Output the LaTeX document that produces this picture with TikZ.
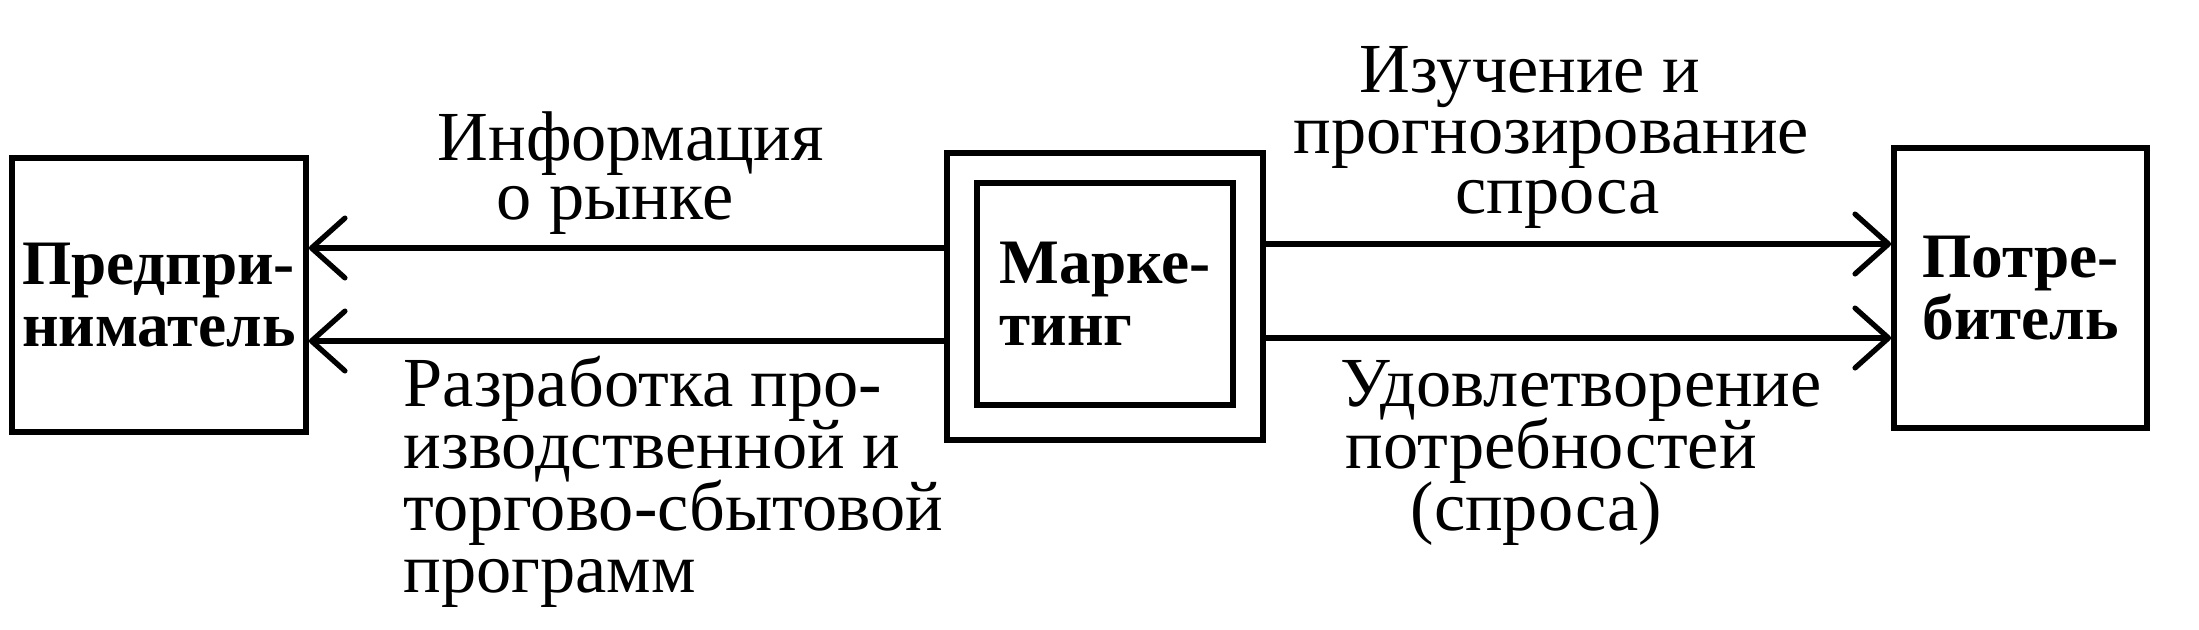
\documentclass[tikz,border=0pt]{standalone}
\usepackage{fontspec}
\setmainfont{Liberation Serif}
\usetikzlibrary{arrows.meta}
\tikzset{
  boxst/.style={draw, line width=1.6pt, inner sep=0pt, align=left,
    font=\fontsize{18}{17.6}\selectfont\bfseries},
  lbl/.style={inner sep=0pt, anchor=base west, font=\fontsize{20}{17}\selectfont},
  arr/.style={line width=1.5pt, -{Straight Barb[length=9.5pt, width=17pt, line cap=round, line join=round]}},
}
\begin{document}
\begin{tikzpicture}[x=0.01cm, y=-0.01cm]
\useasboundingbox (0,0) rectangle (2199,629);
% boxes
\node[boxst, minimum width=2.94cm, minimum height=2.74cm] (pr) at (159,295) {Предпри-\\ниматель};
\node[boxst, minimum width=3.16cm, minimum height=2.87cm] (mo) at (1105,296.5) {};
\node[boxst, minimum width=2.56cm, minimum height=2.22cm] (mk) at (1105,294) {Марке-\\тинг};
\node[boxst, minimum width=2.53cm, minimum height=2.80cm] (po) at (2020.5,288) {Потре-\\битель};
% connectors
\draw[arr] (mo.west |- 0,248) -- (pr.east |- 0,248);
\draw[arr] (mo.west |- 0,341) -- (pr.east |- 0,341);
\draw[arr] (mo.east |- 0,244) -- (po.west |- 0,244);
\draw[arr] (mo.east |- 0,338) -- (po.west |- 0,338);
% labels
\node[lbl] (a1) at (437,160) {Информация};
\node[lbl] (a2) at (496,219) {о рынке};
\node[lbl] (b1) at (1359,92) {Изучение и};
\node[lbl] (b2) at (1293,153) {прогнозирование};
\node[lbl] (b3) at (1455,213) {спроса};
\node[lbl] (c1) at (403,406) {Разработка про-};
\node[lbl] (c2) at (403,468) {изводственной и};
\node[lbl] (c3) at (403,530) {торгово-сбытовой};
\node[lbl] (c4) at (403,592) {программ};
\node[lbl] (d1) at (1340,406) {Удовлетворение};
\node[lbl] (d2) at (1345,468) {потребностей};
\node[lbl] (d3) at (1410,530) {(спроса)};
\end{tikzpicture}
\end{document}
